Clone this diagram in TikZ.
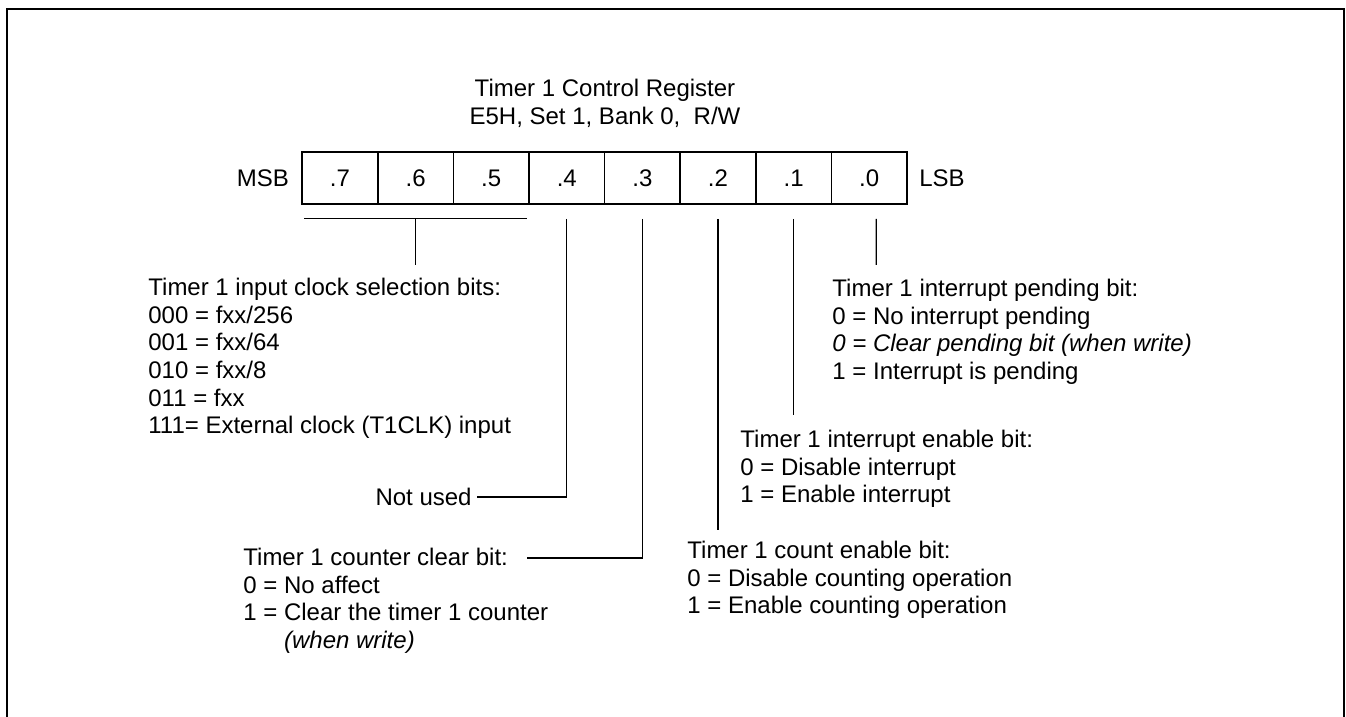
\documentclass[tikz,border=0pt]{standalone}
\usepackage{fontspec}
\setmainfont{Liberation Sans}
\usetikzlibrary{positioning}

\begin{document}
\begin{tikzpicture}[x=0.5pt, y=-0.5pt,
    every node/.style={font=\fontsize{12}{13.8}\selectfont, inner sep=0pt},
    bitcell/.style={draw, line width=0.85pt, minimum width=37.8pt, minimum height=26pt},
    lead/.style={line width=0.6pt},
    note/.style={align=left, anchor=north west}]
  \useasboundingbox (0,0) rectangle (1346,717);
  % outer frame, open at the bottom
  \draw[line width=1.2pt] (7,717) -- (7,9) -- (1344,9) -- (1344,717);

  % register name
  \node (title) at (605,90) {Timer 1 Control Register};
  \node (addr) at (605,117) {E5H, Set 1, Bank 0,\ \ R/W};

  % bit cells
  \foreach \b [count=\i from 0] in {7,6,5,4,3,2,1,0}
    \node[bitcell] (b\b) at (340+75.6*\i,178) {.\b};
  \node[left=6pt of b7] (msb) {MSB};
  \node[right=5.5pt of b0] (lsb) {LSB};

  % bit descriptions
  \node[note] (clk) at (148,278) {Timer 1 input clock selection bits:\\
    000 = fxx/256\\
    001 = fxx/64\\
    010 = fxx/8\\
    011 = fxx\\
    111= External clock (T1CLK) input};
  \node[anchor=east] (unused) at (472,497) {Not used};
  \node[note] (clr) at (243,548) {Timer 1 counter clear bit:\\
    0 = No affect\\
    1 = Clear the timer 1 counter\\
    \phantom{1 = }\textit{(when write)}};
  \node[note] (cnt) at (687,541) {Timer 1 count enable bit:\\
    0 = Disable counting operation\\
    1 = Enable counting operation};
  \node[note] (ien) at (740,430) {Timer 1 interrupt enable bit:\\
    0 = Disable interrupt\\
    1 = Enable interrupt};
  \node[note] (pnd) at (832,279) {Timer 1 interrupt pending bit:\\
    0 = No interrupt pending\\
    \textit{0 = Clear pending bit (when write)}\\
    1 = Interrupt is pending};

  % lead ends
  \coordinate (e6) at (415,265);
  \coordinate (e4) at (477,497);
  \coordinate (e3) at (527,558);
  \coordinate (e2) at (718,530);
  \coordinate (e1) at (794,415);
  \coordinate (e0) at (876.2,265);

  % leads
  \draw[lead] ([xshift=1.5pt,yshift=-7pt]b7.south west)
    -- ([xshift=-1.5pt,yshift=-7pt]b5.south east);
  \draw[lead] ([yshift=-7pt]b6.south) -- (b6 |- e6);
  \draw[lead] ([yshift=-7pt]b4.south) |- (e4);
  \draw[lead] ([yshift=-7pt]b3.south) |- (e3);
  \draw[lead] ([yshift=-7pt]b2.south) -- (b2 |- e2);
  \draw[lead] ([yshift=-7pt]b1.south) -- (b1 |- e1);
  \draw[lead] ([xshift=3.5pt,yshift=-7pt]b0.south) -- (e0);
\end{tikzpicture}
\end{document}
